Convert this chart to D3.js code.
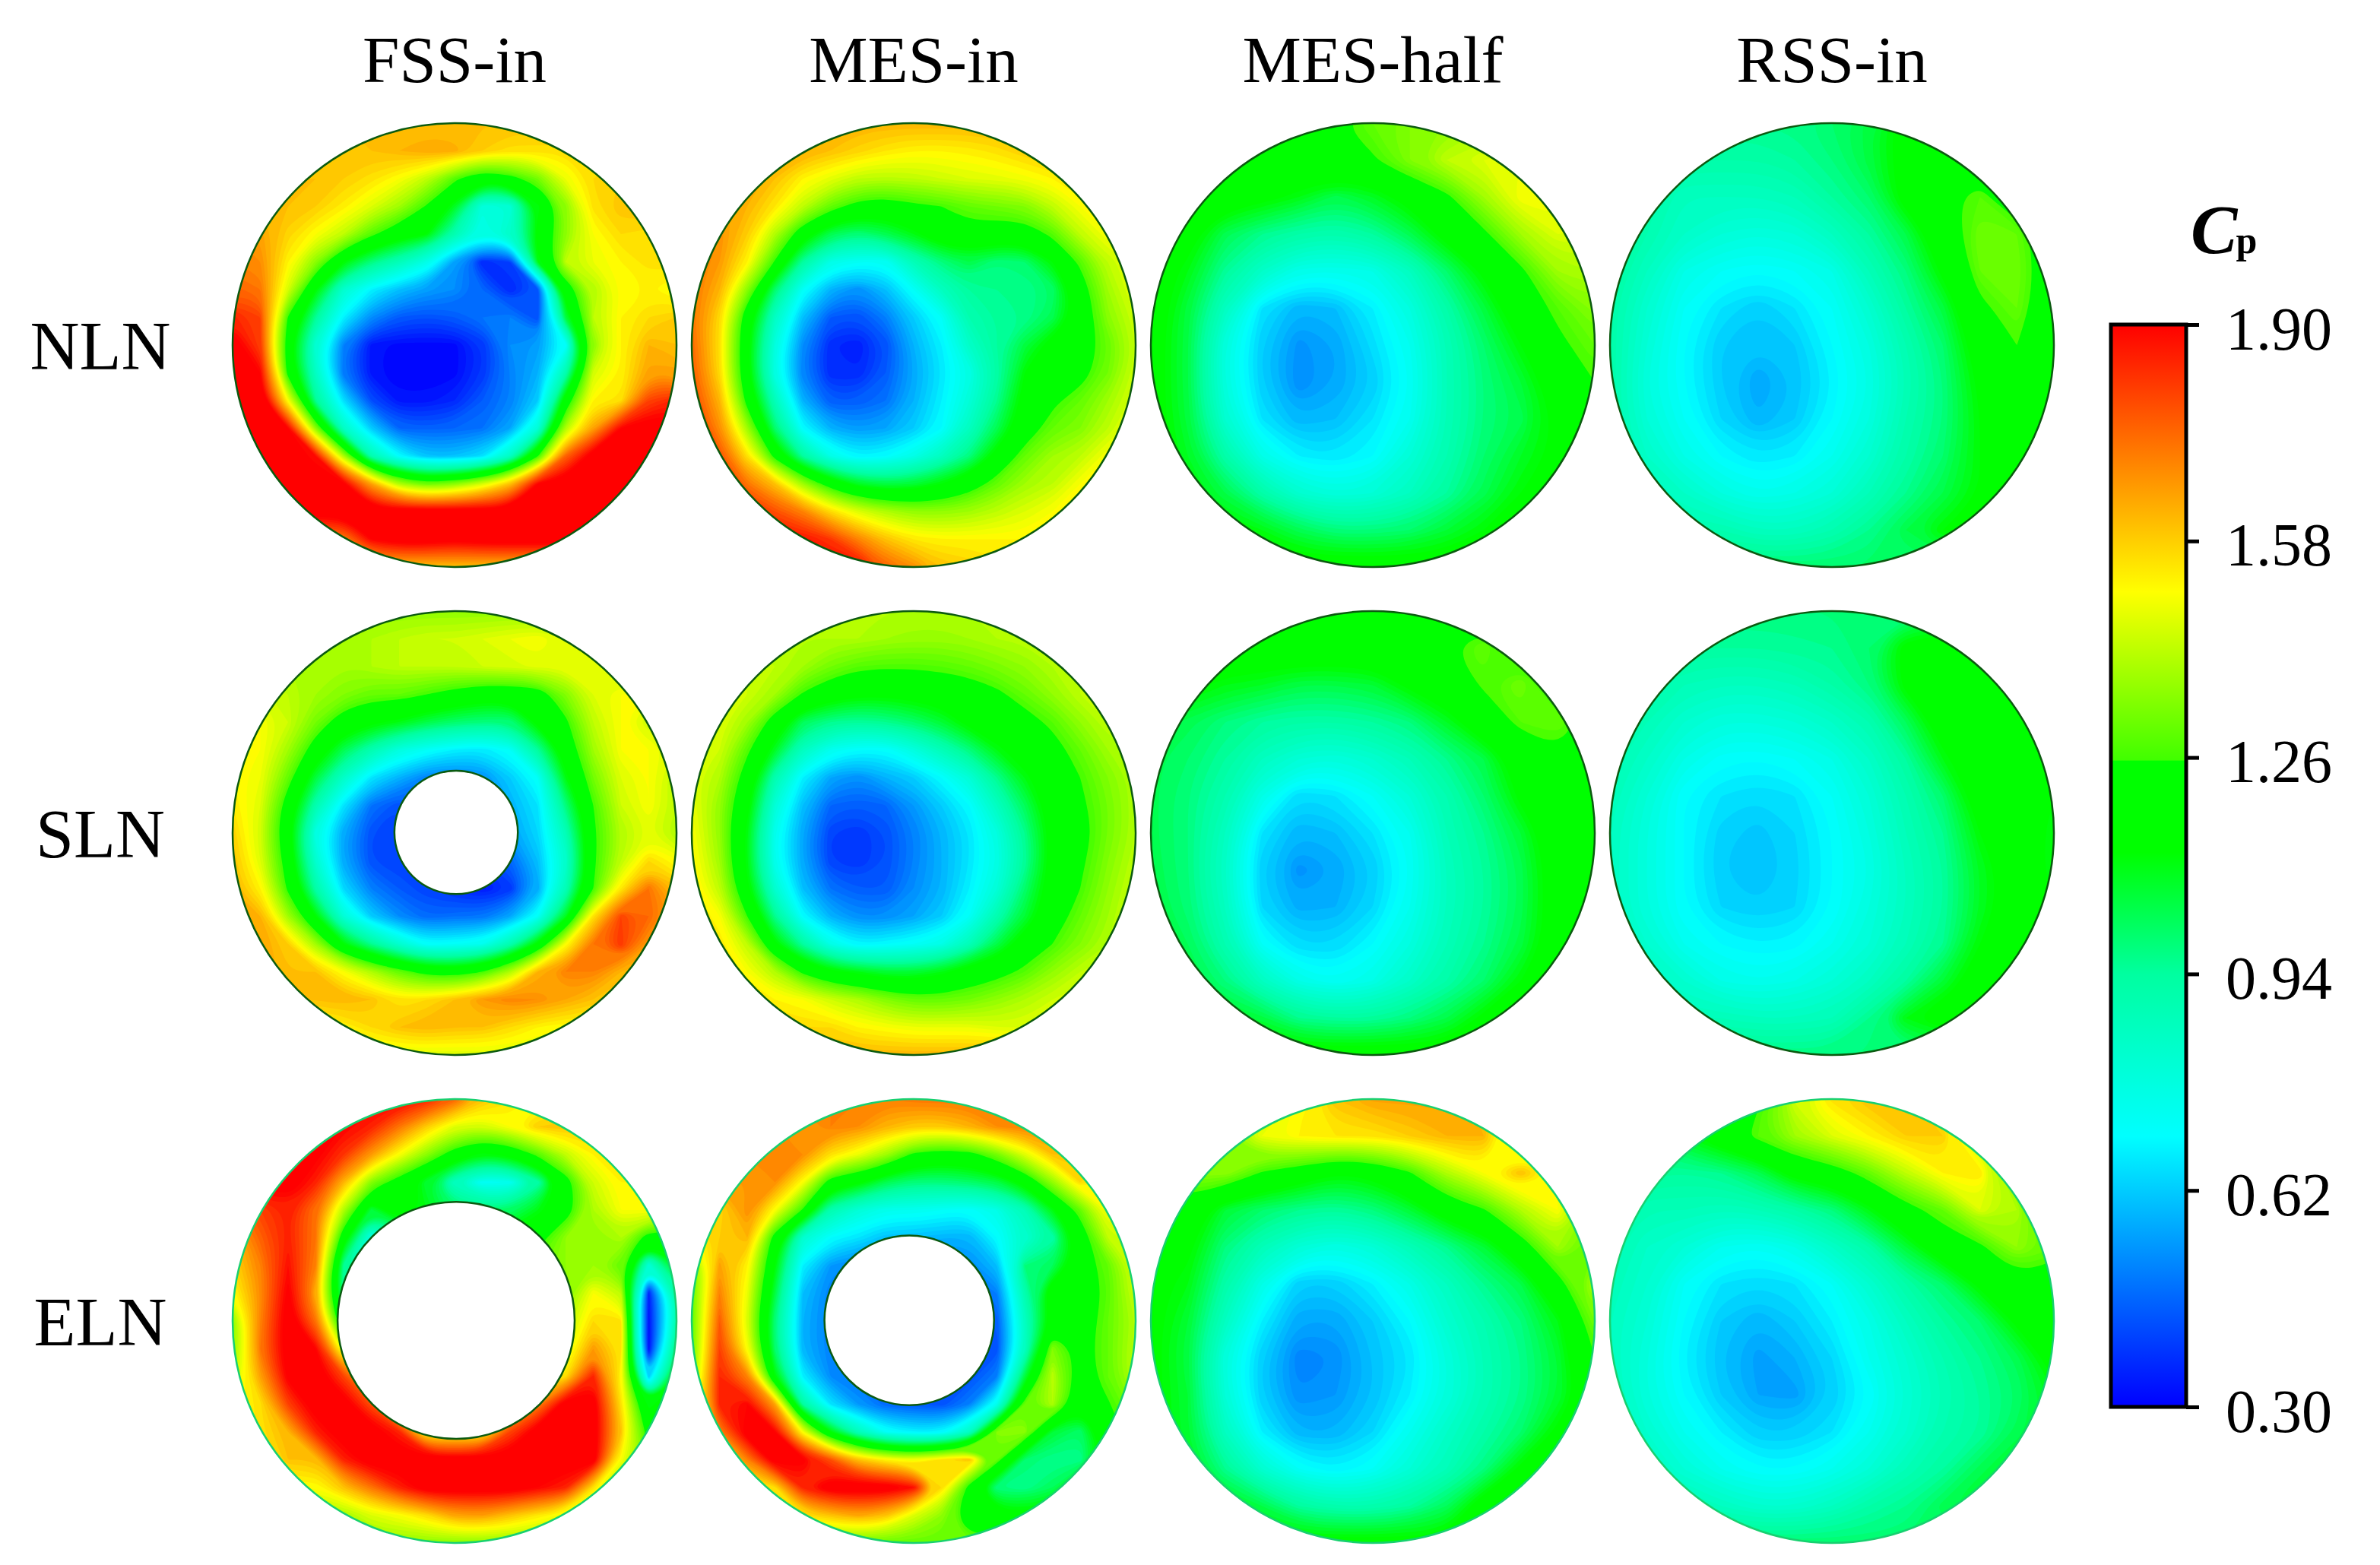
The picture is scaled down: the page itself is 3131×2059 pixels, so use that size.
<!DOCTYPE html>
<html>
<head>
<meta charset="utf-8">
<script src="https://cdn.jsdelivr.net/npm/d3@7"></script>
<style>
body { margin: 0; background: #fff; }
text { font-family: "Liberation Serif", serif; fill: #000; }
</style>
</head>
<body>
<div id="chart"></div>
<script>
var schemes = ["FSS-in", "MES-in", "MES-half", "RSS-in"];
var nozzles = ["NLN", "SLN", "ELN"];
var cpTicks = [0.30, 0.62, 0.94, 1.26, 1.58, 1.90];

// colour bar
var cpStops = [0.30, 0.70, 0.94, 1.12, 1.255, 1.256, 1.505, 1.90];
var cpColors = ["#0000ff", "#00ffff", "#00ffa0", "#00ff00", "#00ff00", "#40ff00", "#ffff00", "#ff0000"];

// Cp x 100, row by row from the top of each disk
var nlnFss = [
[160,160,160,160,160,160,160,160,160,160,160,160,160,160,160,160,160],
[158,158,158,158,158,160,162,164,163,158,155,155,155,155,155,155,155],
[160,160,160,160,158,155,150,142,128,116,122,132,148,156,158,158,158],
[162,162,160,158,153,146,138,125,108,78,80,110,135,155,160,160,160],
[168,165,157,150,142,128,118,112,90,76,84,115,135,150,156,155,155],
[170,168,152,135,112,98,88,76,55,36,40,110,142,148,152,155,155],
[175,172,145,112,82,68,60,55,52,46,36,42,118,140,150,152,150],
[185,180,125,95,68,52,44,42,44,48,50,42,105,142,152,156,158],
[195,180,118,80,50,33,31,31,31,38,52,55,70,135,152,162,160],
[195,190,122,85,48,33,30,30,31,38,50,58,90,145,152,165,165],
[195,195,150,95,65,42,33,33,36,44,50,62,118,152,155,180,185],
[195,195,190,135,85,62,46,45,46,48,56,80,140,165,190,195,195],
[195,195,195,188,140,90,70,60,60,65,85,125,175,195,195,195,195],
[195,195,195,195,192,165,140,130,135,145,160,190,195,195,195,195,195],
[195,195,195,195,195,195,195,195,195,195,195,195,195,195,195,195,195],
[170,170,170,170,170,190,195,195,192,195,195,195,195,195,190,190,190],
[160,160,160,160,160,160,160,160,160,160,160,160,160,160,160,160,160]];
var nlnMes = [
[162,162,162,162,162,162,162,162,162,162,162,162,162,162,162,162,162],
[165,165,165,165,163,160,157,154,152,152,153,155,158,160,160,160,160],
[165,165,165,160,152,147,142,141,142,144,146,147,149,152,156,156,156],
[168,165,162,154,142,130,122,120,124,126,130,132,134,142,150,152,152],
[170,168,158,140,118,103,98,103,110,120,122,120,120,128,142,150,150],
[172,166,152,125,94,76,72,72,88,98,104,98,100,112,128,142,148],
[172,162,135,100,72,58,52,60,72,86,94,96,96,100,120,138,148],
[172,156,118,85,60,44,42,50,62,72,90,94,96,103,118,135,144],
[174,155,115,78,52,36,34,42,58,68,84,94,105,116,120,130,142],
[176,156,115,76,50,36,36,44,56,66,76,92,112,120,122,132,144],
[180,162,122,88,58,44,44,48,58,68,80,96,116,124,130,138,146],
[185,168,138,100,70,58,54,56,62,70,86,103,120,130,134,142,150],
[188,178,155,122,94,76,68,70,76,86,98,116,130,138,142,150,152],
[190,185,172,160,138,120,108,104,106,112,120,130,138,142,150,152,152],
[190,190,185,178,170,156,146,140,136,136,138,142,146,150,152,152,152],
[190,190,190,190,188,182,170,160,154,152,152,152,152,152,152,152,152],
[190,190,190,190,190,190,190,175,168,160,158,155,155,155,155,155,155]];
var slnFss = [
[136,136,136,136,136,136,136,136,136,136,136,136,136,136,136,136,136],
[138,138,138,138,138,140,142,144,144,146,148,150,146,146,146,146,146],
[140,140,140,138,138,140,142,142,142,144,145,147,147,146,142,142,142],
[145,145,142,138,134,130,130,126,122,118,118,120,134,146,150,150,150],
[150,150,144,132,120,114,110,104,100,98,98,115,124,142,150,144,144],
[152,150,138,120,103,90,78,72,68,66,72,94,118,138,150,150,146],
[152,148,130,105,84,66,58,50,50,52,62,72,110,132,146,150,140],
[154,146,120,90,66,48,42,45,50,50,58,66,98,126,144,150,142],
[158,144,116,76,56,42,40,45,50,50,55,64,88,124,140,146,140],
[160,146,120,82,56,42,40,40,40,40,46,60,82,124,142,156,150],
[162,152,124,92,64,50,44,40,36,33,38,56,88,126,154,172,160],
[164,162,138,112,80,62,52,46,48,48,56,72,108,155,180,174,165],
[165,165,158,138,112,96,82,70,72,74,90,114,150,172,182,166,160],
[165,165,160,160,150,140,130,122,120,126,140,162,170,170,162,160,155],
[160,160,160,160,162,160,154,156,160,166,170,168,164,160,156,155,155],
[150,150,150,150,152,156,160,162,160,160,156,152,150,150,150,150,150],
[146,146,146,146,146,146,146,146,146,146,146,146,146,146,146,146,146]];
var slnMes = [
[140,140,140,140,140,140,140,140,140,140,140,140,140,140,140,140,140],
[142,142,142,141,140,140,140,138,137,137,138,140,141,142,142,142,142],
[144,144,144,142,138,132,128,127,127,128,130,133,136,140,142,142,142],
[146,146,144,138,125,118,114,114,116,118,120,124,130,136,142,142,142],
[148,146,138,120,102,96,94,96,100,106,115,120,122,128,136,142,142],
[148,144,128,108,86,74,70,70,78,88,98,110,118,122,130,138,140],
[146,140,120,90,68,56,52,58,62,70,80,96,110,120,126,134,140],
[148,136,115,80,60,46,44,46,54,62,70,86,102,118,124,132,140],
[150,136,110,74,56,40,38,42,50,58,66,78,96,116,122,132,140],
[152,138,110,74,56,40,38,42,50,58,66,76,94,116,124,134,142],
[154,142,114,82,60,48,44,44,52,58,68,80,100,118,126,136,144],
[156,150,126,96,70,58,52,52,56,62,72,90,106,120,130,138,146],
[158,154,142,114,94,76,68,70,72,76,88,104,118,126,134,140,146],
[160,158,150,140,124,114,110,106,106,110,118,122,128,136,142,144,146],
[162,160,156,152,150,144,140,134,130,130,132,136,140,144,146,146,146],
[165,162,160,158,156,156,152,150,148,148,148,146,146,146,146,146,146],
[162,162,162,162,162,162,162,162,162,162,162,162,162,162,162,162,162]];
var elnFss = [
[170,175,180,185,188,190,190,185,175,160,155,150,150,150,150,150,150],
[185,188,190,190,190,185,172,158,146,144,150,158,160,158,155,155,155],
[190,190,190,192,182,166,150,135,120,110,115,128,142,152,156,156,156],
[190,192,195,185,162,134,120,106,86,72,74,92,120,144,152,152,152],
[170,180,185,172,140,105,120,110,100,100,100,110,120,140,150,150,150],
[160,175,185,172,118,75,90,110,110,115,115,122,136,136,140,120,120],
[156,170,188,170,95,70,100,100,110,120,125,130,136,138,130,80,110],
[150,168,192,162,95,100,100,100,110,120,130,135,134,150,142,35,90],
[135,170,195,172,110,105,105,105,115,125,135,140,140,156,155,32,90],
[135,172,195,190,145,120,110,110,115,130,140,145,145,166,155,32,100],
[140,165,192,195,180,160,130,130,130,140,145,150,155,185,150,62,110],
[150,155,180,195,195,178,150,150,150,150,155,170,195,195,155,110,120],
[150,155,162,185,195,195,185,150,150,150,180,195,195,195,160,120,120],
[140,150,160,160,185,195,195,195,195,195,195,195,195,195,150,130,130],
[135,140,150,150,160,172,185,195,195,195,195,190,185,155,130,130,130],
[130,130,135,138,138,146,150,156,165,166,160,154,148,140,135,130,130],
[135,135,135,135,135,135,135,135,135,135,135,135,135,135,135,135,135]];
var elnMes = [
[160,165,168,168,168,170,170,170,172,172,172,170,168,165,165,165,165],
[165,168,168,168,166,170,168,162,158,158,162,168,170,170,168,165,165],
[166,168,168,170,168,155,148,138,124,120,122,132,146,160,160,158,158],
[165,165,166,168,150,120,114,103,98,98,100,104,116,136,156,150,150],
[160,156,168,150,125,90,80,74,74,72,70,76,88,110,130,150,150],
[150,158,162,120,82,70,66,60,60,58,58,70,82,92,118,142,146],
[130,165,152,112,68,54,50,50,50,50,52,60,98,102,120,130,145],
[130,170,148,105,60,50,50,48,48,46,46,50,90,120,120,128,145],
[130,176,145,98,58,50,50,48,46,44,44,44,85,116,120,130,140],
[130,180,150,100,58,50,50,48,46,44,42,42,85,134,122,130,142],
[135,184,170,112,68,52,48,46,44,44,42,50,105,142,120,130,142],
[140,185,190,165,94,66,54,46,44,42,50,74,130,140,116,125,135],
[140,170,195,190,150,112,88,72,68,68,85,135,136,106,100,122,130],
[140,150,170,195,192,178,160,152,148,155,160,130,100,96,96,118,125],
[135,140,150,155,185,195,195,195,188,156,122,98,96,102,118,125,125],
[130,130,140,150,155,160,165,160,146,136,118,116,115,118,120,125,125],
[130,130,130,130,130,130,130,130,130,130,130,130,130,130,130,130,130]];
var nlnHalf = [
[120,120,120,120,122,125,130,134,136,138,140,140,140],
[120,120,120,120,122,122,125,134,142,146,148,148,148],
[120,120,118,115,110,103,108,116,124,138,150,150,150],
[120,116,103,96,92,90,94,103,116,124,138,146,145],
[118,110,95,84,75,74,76,86,100,114,124,138,140],
[118,105,86,66,58,60,68,78,92,105,120,128,135],
[117,104,78,62,53,56,65,74,88,100,112,124,130],
[117,104,78,62,52,56,62,72,88,98,106,118,126],
[117,105,82,66,58,60,66,74,88,98,103,114,120],
[117,108,92,76,68,66,70,80,90,100,108,114,118],
[117,112,104,92,82,78,80,86,94,103,112,116,118],
[118,116,114,110,103,98,98,100,106,112,116,118,118],
[118,118,118,118,118,118,118,118,118,118,118,118,118]];
var nlnRss = [
[100,98,96,96,96,97,100,105,116,118,120,120,120],
[96,94,92,92,92,94,98,105,116,120,120,120,120],
[94,92,86,86,86,88,94,100,116,124,128,120,120],
[94,90,84,80,78,80,86,94,104,120,132,130,118],
[94,86,76,72,70,72,76,88,98,114,130,132,118],
[92,82,72,66,62,66,72,82,94,105,124,130,118],
[92,80,70,62,60,62,70,78,90,100,118,126,116],
[92,78,70,62,56,60,68,76,88,98,114,120,116],
[92,80,72,64,58,62,70,78,90,98,112,116,114],
[92,84,76,70,66,68,74,82,92,100,112,114,114],
[92,88,84,78,74,76,80,88,96,104,112,114,114],
[94,92,90,90,86,86,90,96,104,112,114,114,114],
[100,100,100,100,100,100,100,100,100,100,100,100,100]];
var slnHalf = [
[120,120,120,120,120,120,120,120,120,120,120,120,120],
[120,120,120,120,120,120,120,122,125,130,122,122,122],
[118,115,110,108,104,104,106,114,120,127,132,122,122],
[106,103,98,94,92,92,94,98,108,120,128,130,122],
[103,100,94,86,80,78,82,88,96,104,118,124,122],
[103,98,90,76,64,66,72,80,90,100,114,122,122],
[103,98,86,66,58,60,66,74,88,96,106,120,120],
[104,98,84,62,53,56,62,72,86,94,103,118,120],
[105,99,86,64,57,58,64,74,86,94,103,118,120],
[105,102,90,72,64,64,70,78,88,96,105,118,120],
[108,105,98,86,76,72,76,84,92,100,112,118,120],
[112,110,108,105,96,94,94,98,104,114,118,120,120],
[118,118,118,118,118,118,118,118,118,118,118,118,118]];
var slnRss = [
[98,98,98,98,98,98,98,98,98,98,98,98,98],
[94,94,94,94,94,95,96,100,115,120,120,120,120],
[92,92,88,86,86,88,92,98,114,120,120,120,120],
[92,88,82,78,78,80,84,90,102,118,120,120,118],
[90,84,76,71,70,72,76,84,94,110,120,120,115],
[88,80,70,66,64,66,72,80,90,100,118,120,112],
[86,78,70,63,61,64,70,78,88,96,112,118,110],
[86,78,70,62,60,63,70,76,86,94,108,118,110],
[86,78,70,64,62,64,70,78,86,94,108,118,112],
[86,82,74,70,68,69,74,80,88,96,112,118,114],
[88,86,82,76,74,76,80,86,94,106,118,118,116],
[92,90,88,88,86,86,88,96,110,118,118,118,118],
[98,98,98,98,98,98,98,98,98,98,98,98,98]];
var elnHalf = [
[135,135,135,140,150,160,165,165,165,160,140,135,135],
[130,130,135,148,152,154,154,158,162,162,140,135,135],
[135,135,136,125,120,112,115,125,140,150,160,150,140],
[115,120,106,100,96,94,98,106,118,125,140,150,130],
[115,114,98,88,80,76,80,88,96,106,120,138,130],
[115,110,92,76,62,62,68,76,86,96,104,122,140],
[115,106,86,68,56,56,62,70,82,90,98,110,132],
[115,104,78,62,50,52,60,66,78,88,96,106,126],
[115,106,80,62,52,54,60,68,78,88,96,106,120],
[115,106,86,68,58,58,64,74,84,92,100,114,118],
[115,110,96,82,72,68,72,80,88,98,114,118,118],
[115,115,110,104,94,90,90,94,102,118,118,118,118],
[116,116,116,116,116,116,116,116,116,116,116,116,116]];
var elnRss = [
[110,110,110,115,125,145,155,160,160,150,135,130,130],
[100,100,110,120,128,138,146,152,158,158,140,130,130],
[95,95,94,96,103,116,120,130,142,152,154,130,130],
[92,88,88,86,88,92,98,110,122,130,146,140,120],
[90,84,80,74,72,76,84,92,106,120,124,136,130],
[88,82,72,66,64,66,72,82,92,100,114,122,120],
[86,80,70,62,58,62,68,76,86,94,100,114,122],
[86,78,68,60,55,58,64,74,82,90,96,103,116],
[88,78,70,62,56,55,62,70,80,88,94,100,110],
[88,82,74,68,62,62,66,74,82,90,94,103,108],
[90,86,80,74,70,70,74,80,88,94,103,108,108],
[94,92,90,86,82,82,86,92,96,103,108,108,108],
[100,100,100,100,100,100,100,100,100,100,100,100,100]];

// grids in reading order, same order as the picture
var fields = [
	[nlnFss, nlnMes, nlnHalf, nlnRss],
	[slnFss, slnMes, slnHalf, slnRss],
	[elnFss, elnMes, elnHalf, elnRss]
];

// blocked part of the section: [row, col, dx, dy, radius] in disk radii
var holes = [
	[1, 0, 0.007, -0.003, 0.278],
	[2, 0, 0.007, -0.003, 0.534],
	[2, 1, -0.02, -0.003, 0.382]
];

var width = 3131, height = 2059, R = 292;
var wallColor = ["#0b5a10", "#0b5a10", "#18d070"];

var svg = d3.select("#chart").append("svg")
	.attr("width", width)
	.attr("height", height)
	.style("display", "block");

var colX = d3.scalePoint().domain(schemes).range([598, 2410]);
var rowY = d3.scalePoint().domain(nozzles).range([454, 1738]);
var cpColor = d3.scaleLinear().domain(cpStops).range(cpColors).clamp(true);

// band levels in hundredths, 0 gives the base fill
var levels = [0].concat(d3.range(30, 192, 2));
var ringLine = d3.line().curve(d3.curveBasisClosed);

function drawPanel(r, c) {
	var grid = fields[r][c];
	var n = grid.length;
	var cx = colX(schemes[c]), cy = rowY(nozzles[r]);
	// contour coords have the first node at 0.5
	var x = d3.scaleLinear().domain([0.5, n - 0.5]).range([cx - R, cx + R]);
	var y = d3.scaleLinear().domain([0.5, n - 0.5]).range([cy - R, cy + R]);
	var id = "disk" + r + c;

	svg.append("clipPath").attr("id", id)
		.append("circle").attr("cx", cx).attr("cy", cy).attr("r", R);

	var bands = d3.contours().size([n, n]).thresholds(levels)(grid.flat());
	svg.append("g")
		.attr("clip-path", "url(#" + id + ")")
		.selectAll("path")
		.data(bands)
		.join("path")
		.attr("fill-rule", "evenodd")
		.attr("fill", function(d) { return cpColor((d.value + 1) / 100); })
		.attr("d", function(d) {
			var out = "";
			d.coordinates.forEach(function(poly) {
				poly.forEach(function(ring) {
					out += ringLine(ring.slice(0, -1).map(function(p) { return [x(p[0]), y(p[1])]; }));
				});
			});
			return out;
		});

	svg.append("circle")
		.attr("cx", cx).attr("cy", cy).attr("r", R)
		.attr("fill", "none")
		.attr("stroke", wallColor[r])
		.attr("stroke-width", 2.5);

	holes.filter(function(h) { return h[0] == r && h[1] == c; }).forEach(function(h) {
		svg.append("circle")
			.attr("cx", cx + h[2] * R).attr("cy", cy + h[3] * R).attr("r", h[4] * R)
			.attr("fill", "#fff")
			.attr("stroke", "#0b5a10")
			.attr("stroke-width", 2.5);
	});
}

nozzles.forEach(function(nz, r) {
	schemes.forEach(function(s, c) { drawPanel(r, c); });
});

// titles
svg.selectAll("text.col").data(schemes).join("text")
	.attr("class", "col")
	.attr("x", function(d) { return colX(d); })
	.attr("y", 108)
	.attr("text-anchor", "middle")
	.attr("font-size", 87)
	.text(function(d) { return d; });

svg.selectAll("text.row").data(nozzles).join("text")
	.attr("class", "row")
	.attr("x", 132)
	.attr("y", function(d) { return rowY(d) + 32; })
	.attr("text-anchor", "middle")
	.attr("font-size", 90)
	.text(function(d) { return d; });

// colour bar
var barX = 2777, barW = 99, barTop = 427, barBottom = 1851;
var barY = d3.scaleLinear().domain([0.30, 1.90]).range([barBottom, barTop]);

var grad = svg.append("defs").append("linearGradient")
	.attr("id", "cpBar")
	.attr("x1", 0).attr("y1", 1).attr("x2", 0).attr("y2", 0);
grad.selectAll("stop").data(cpStops).join("stop")
	.attr("offset", function(d) { return (d - 0.30) / 1.60; })
	.attr("stop-color", function(d) { return cpColor(d); });

svg.append("rect")
	.attr("x", barX).attr("y", barTop)
	.attr("width", barW).attr("height", barBottom - barTop)
	.attr("fill", "url(#cpBar)")
	.attr("stroke", "#000")
	.attr("stroke-width", 5);

var axis = svg.append("g")
	.attr("transform", "translate(" + (barX + barW) + ",0)")
	.call(d3.axisRight(barY).tickValues(cpTicks).tickSize(17).tickFormat(d3.format(".2f")));
axis.select(".domain").remove();
axis.selectAll(".tick line").attr("stroke", "#000").attr("stroke-width", 5);
axis.selectAll(".tick text")
	.attr("x", 192)
	.attr("dy", "0.4em")
	.attr("text-anchor", "end")
	.attr("font-size", 80)
	.attr("font-family", "Liberation Serif");

var cpLabel = svg.append("text")
	.attr("x", 2882)
	.attr("y", 333)
	.attr("font-weight", "bold");
cpLabel.append("tspan").attr("font-size", 92).attr("font-style", "italic").text("C");
cpLabel.append("tspan").attr("font-size", 50).attr("dx", -2).text("p");
</script>
</body>
</html>
